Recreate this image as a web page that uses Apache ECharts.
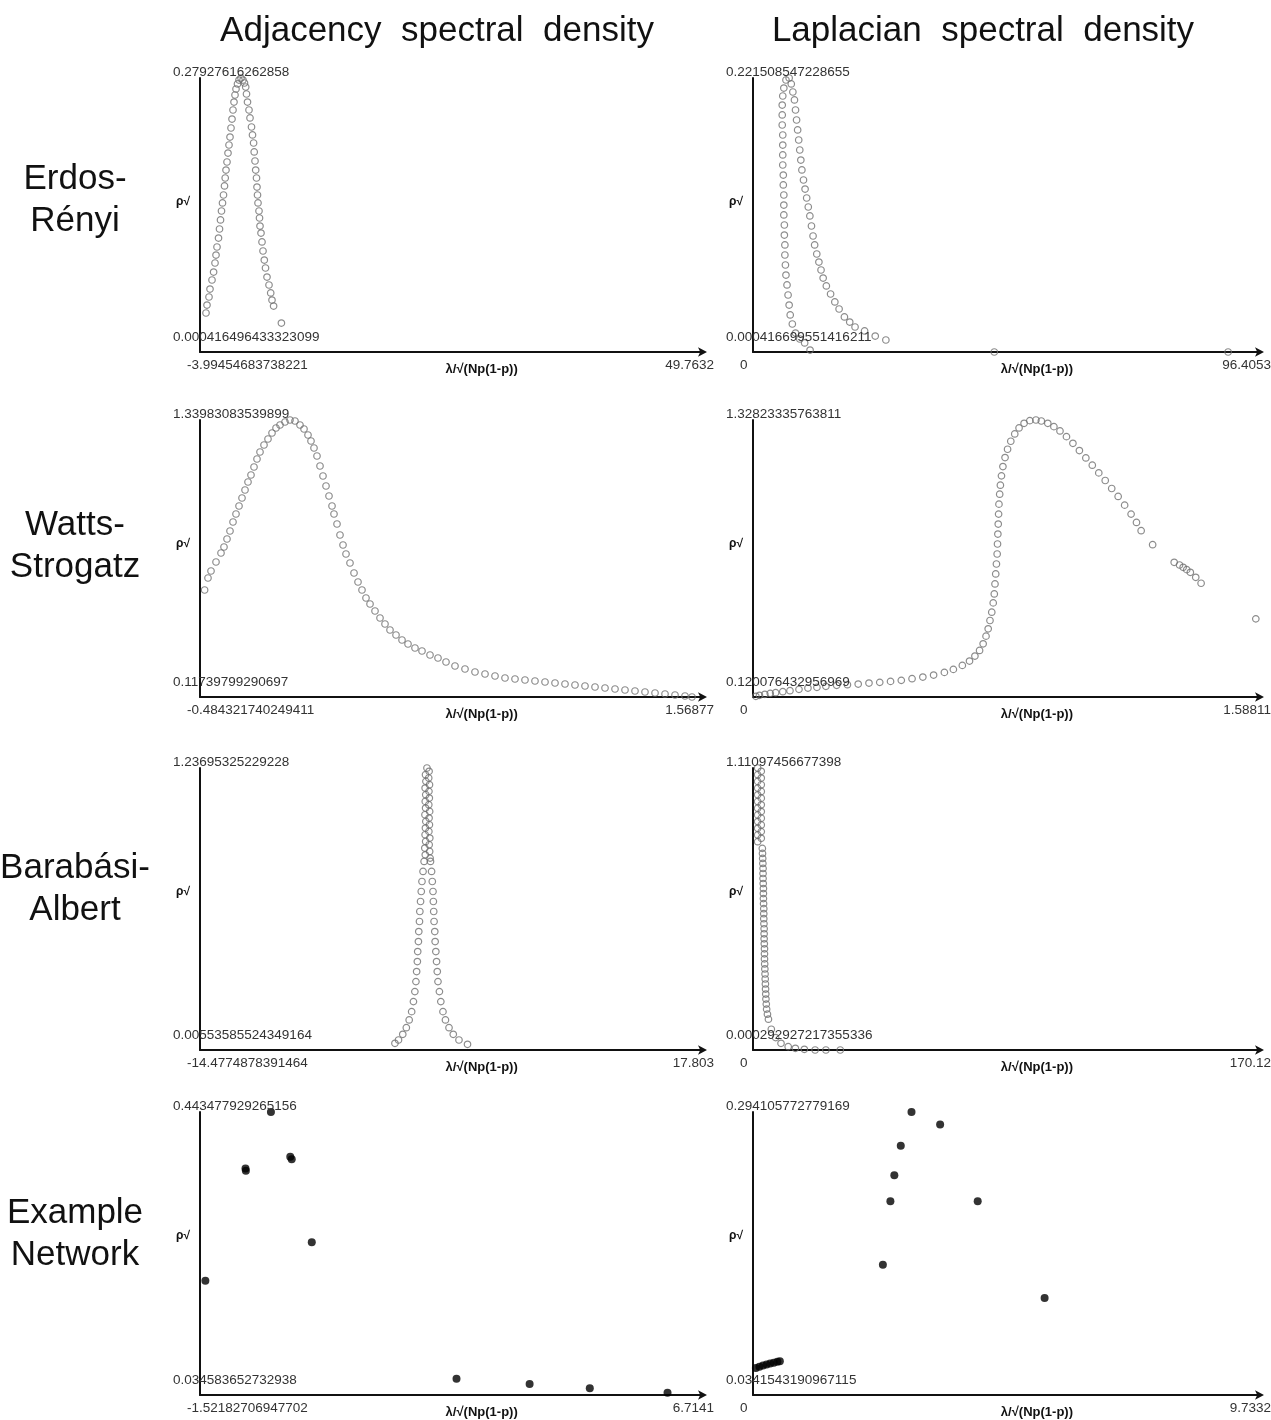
<!DOCTYPE html>
<html><head><meta charset="utf-8">
<script src="https://cdn.jsdelivr.net/npm/echarts@6/dist/echarts.min.js"></script>
<style>html,body{margin:0;padding:0;background:#fff}#c{width:1271px;height:1420px}</style>
</head><body><div id="c"></div>
<script>
// ---------- texts ----------
const colTitles = ['Adjacency  spectral  density', 'Laplacian  spectral  density'];
const rowTitles = [['Erdos-', 'Rényi'], ['Watts-', 'Strogatz'], ['Barabási-', 'Albert'], ['Example', 'Network']];
const xAxisTitle = 'λ/√(Np(1-p))';
const yAxisTitle = 'ρ√';

// panel order (row-major): ER adj, ER lap, WS adj, WS lap, BA adj, BA lap, Example adj, Example lap
const xMinLabels = ['-3.99454683738221', '0', '-0.484321740249411', '0', '-14.4774878391464', '0', '-1.52182706947702', '0'];
const xMaxLabels = ['49.7632', '96.4053', '1.56877', '1.58811', '17.803', '170.12', '6.7141', '9.7332'];
const yMinLabels = ['0.000416496433323099', '0.000416699551416211', '0.11739799290697', '0.120076432956969', '0.00553585524349164', '0.000292927217355336', '0.034583652732938', '0.0341543190967115'];
const yMaxLabels = ['0.27927616262858', '0.221508547228655', '1.33983083539899', '1.32823335763811', '1.23695325229228', '1.11097456677398', '0.443477929265156', '0.294105772779169'];

// ---------- data [x, y] ----------
const erAdj = [[-3.353,0.0401],[-3.246,0.0482],[-3.033,0.0564],[-2.926,0.0645],[-2.712,0.0737],[-2.541,0.0818],[-2.391,0.0910],[-2.284,0.0991],[-2.178,0.1073],[-2.017,0.1164],[-1.910,0.1256],[-1.803,0.1348],[-1.697,0.1439],[-1.590,0.1521],[-1.483,0.1602],[-1.376,0.1694],[-1.301,0.1775],[-1.216,0.1856],[-1.109,0.1938],[-1.002,0.2029],[-0.895,0.2111],[-0.788,0.2192],[-0.681,0.2284],[-0.574,0.2375],[-0.468,0.2467],[-0.361,0.2548],[-0.254,0.2620],[-0.147,0.2681],[0.013,0.2732],[0.174,0.2772],[0.387,0.2793],[0.601,0.2772],[0.761,0.2742],[0.890,0.2701],[0.975,0.2630],[1.082,0.2548],[1.242,0.2467],[1.349,0.2386],[1.510,0.2294],[1.616,0.2213],[1.734,0.2131],[1.798,0.2040],[1.884,0.1948],[1.958,0.1856],[2.044,0.1775],[2.097,0.1683],[2.151,0.1602],[2.204,0.1521],[2.311,0.1439],[2.365,0.1368],[2.418,0.1286],[2.525,0.1215],[2.632,0.1124],[2.739,0.1032],[2.878,0.0940],[3.006,0.0859],[3.166,0.0767],[3.380,0.0686],[3.562,0.0605],[3.700,0.0533],[3.872,0.0472],[4.705,0.0299]];

const erLap = [[6.265,0.2199],[5.861,0.2134],[5.659,0.2070],[5.558,0.1997],[5.558,0.1917],[5.558,0.1836],[5.659,0.1755],[5.659,0.1674],[5.659,0.1594],[5.659,0.1513],[5.760,0.1432],[5.760,0.1352],[5.861,0.1271],[5.861,0.1190],[5.861,0.1110],[5.962,0.1029],[5.962,0.0948],[6.063,0.0868],[6.063,0.0787],[6.164,0.0706],[6.265,0.0625],[6.468,0.0545],[6.670,0.0464],[6.872,0.0383],[7.074,0.0303],[7.478,0.0230],[8.084,0.0157],[8.893,0.0109],[9.823,0.0077],[10.853,0.0020],
  [6.872,0.2215],[7.276,0.2167],[7.579,0.2102],[7.882,0.2038],[8.084,0.1957],[8.287,0.1876],[8.489,0.1796],[8.691,0.1715],[8.893,0.1634],[9.095,0.1553],[9.297,0.1473],[9.600,0.1392],[9.903,0.1319],[10.207,0.1247],[10.510,0.1174],[10.813,0.1102],[11.116,0.1021],[11.419,0.0940],[11.722,0.0868],[12.127,0.0795],[12.531,0.0730],[12.935,0.0666],[13.339,0.0601],[13.946,0.0537],[14.754,0.0472],[15.562,0.0408],[16.371,0.0351],[17.381,0.0287],[18.392,0.0246],[19.403,0.0206],[21.222,0.0174],[23.243,0.0133],[25.264,0.0101],[45.879,0.0004],[90.343,0.0004]];

const wsAdj = [[-0.4655,0.5896],[-0.4517,0.6426],[-0.4394,0.6735],[-0.4190,0.7132],[-0.3986,0.7529],[-0.3864,0.7794],[-0.3741,0.8147],[-0.3619,0.8500],[-0.3496,0.8897],[-0.3374,0.9250],[-0.3251,0.9603],[-0.3129,0.9956],[-0.3006,1.0309],[-0.2884,1.0662],[-0.2762,1.0971],[-0.2639,1.1324],[-0.2517,1.1677],[-0.2394,1.1986],[-0.2231,1.2295],[-0.2068,1.2560],[-0.1904,1.2825],[-0.1741,1.3045],[-0.1578,1.3178],[-0.1374,1.3310],[-0.1170,1.3398],[-0.0966,1.3354],[-0.0762,1.3178],[-0.0598,1.3001],[-0.0435,1.2736],[-0.0313,1.2472],[-0.0190,1.2163],[-0.0068,1.1810],[0.0055,1.1368],[0.0177,1.0927],[0.0300,1.0486],[0.0422,1.0044],[0.0545,0.9603],[0.0626,0.9250],[0.0749,0.8809],[0.0871,0.8323],[0.0994,0.7882],[0.1116,0.7485],[0.1279,0.7088],[0.1443,0.6646],[0.1606,0.6249],[0.1769,0.5896],[0.1932,0.5543],[0.2096,0.5278],[0.2300,0.4969],[0.2504,0.4660],[0.2708,0.4396],[0.2912,0.4131],[0.3157,0.3910],[0.3402,0.3689],[0.3647,0.3513],[0.3932,0.3336],[0.4218,0.3204],[0.4545,0.3028],[0.4871,0.2895],[0.5198,0.2719],[0.5565,0.2542],[0.5973,0.2410],[0.6381,0.2277],[0.6790,0.2189],[0.7198,0.2101],[0.7606,0.2012],[0.8014,0.1968],[0.8422,0.1924],[0.8830,0.1880],[0.9239,0.1836],[0.9647,0.1792],[1.0055,0.1748],[1.0463,0.1704],[1.0871,0.1659],[1.1280,0.1615],[1.1688,0.1571],[1.2096,0.1527],[1.2504,0.1483],[1.2912,0.1439],[1.3320,0.1395],[1.3729,0.1351],[1.4137,0.1306],[1.4545,0.1262],[1.4953,0.1218],[1.5239,0.1174]];

const wsLap = [[0.0090,0.1230],[0.0202,0.1273],[0.0371,0.1317],[0.0540,0.1360],[0.0709,0.1389],[0.0933,0.1433],[0.1158,0.1476],[0.1440,0.1534],[0.1721,0.1592],[0.2002,0.1621],[0.2283,0.1665],[0.2621,0.1708],[0.2958,0.1737],[0.3295,0.1766],[0.3633,0.1810],[0.3970,0.1839],[0.4308,0.1882],[0.4645,0.1926],[0.4982,0.1998],[0.5320,0.2071],[0.5657,0.2158],[0.5995,0.2274],[0.6276,0.2405],[0.6557,0.2579],[0.6782,0.2767],[0.6951,0.2985],[0.7097,0.3231],[0.7209,0.3521],[0.7299,0.3855],[0.7367,0.4174],[0.7423,0.4537],[0.7479,0.4899],[0.7524,0.5305],[0.7558,0.5697],[0.7580,0.6132],[0.7603,0.6567],[0.7625,0.7002],[0.7648,0.7437],[0.7659,0.7873],[0.7670,0.8308],[0.7682,0.8743],[0.7693,0.9178],[0.7704,0.9613],[0.7727,1.0048],[0.7749,1.0440],[0.7783,1.0846],[0.7828,1.1252],[0.7895,1.1644],[0.7974,1.2006],[0.8075,1.2355],[0.8199,1.2674],[0.8334,1.2935],[0.8491,1.3138],[0.8671,1.3254],[0.8863,1.3282],[0.9031,1.3239],[0.9234,1.3138],[0.9425,1.2993],[0.9616,1.2804],[0.9819,1.2557],[1.0021,1.2267],[1.0224,1.1948],[1.0426,1.1629],[1.0628,1.1310],[1.0831,1.0976],[1.1033,1.0643],[1.1236,1.0295],[1.1438,0.9947],[1.1641,0.9569],[1.1843,0.9178],[1.2012,0.8815],[1.2158,0.8453],[1.2518,0.7844],[1.3193,0.7075],[1.3361,0.6959],[1.3474,0.6857],[1.3586,0.6756],[1.3699,0.6640],[1.3868,0.6422],[1.4036,0.6161],[1.5750,0.4609]];

const baAdj = [[0.0874,1.2370],[-0.004,1.2078],[0.020,1.1786],[-0.030,1.1495],[0.010,1.1204],[-0.020,1.0912],[0.000,1.0621],[-0.040,1.0329],[0.015,1.0038],[-0.010,0.9746],[-0.030,0.9455],[0.005,0.9163],[-0.050,0.8872],[-0.020,0.8580],
  [0.224,1.2224],[0.200,1.1932],[0.250,1.1641],[0.215,1.1349],[0.240,1.1058],[0.205,1.0767],[0.260,1.0475],[0.224,1.0184],[0.245,0.9892],[0.210,0.9601],[0.270,0.9309],[0.230,0.9018],[0.260,0.8726],[0.290,0.8435],
  [-0.0952,0.8289],[-0.1637,0.7852],[-0.2322,0.7414],[-0.2779,0.6977],[-0.3235,0.6540],[-0.3692,0.6103],[-0.3920,0.5666],[-0.4377,0.5228],[-0.4605,0.4791],[-0.5062,0.4354],[-0.5290,0.3917],[-0.5746,0.3480],[-0.6203,0.3042],[-0.6888,0.2605],[-0.7801,0.2168],[-0.8942,0.1731],[-1.0540,0.1367],[-1.2367,0.1031],[-1.4650,0.0740],[-1.7389,0.0492],[-1.9672,0.0346],
  [0.3157,0.8289],[0.3842,0.7852],[0.4299,0.7414],[0.4755,0.6977],[0.4983,0.6540],[0.5212,0.6103],[0.5440,0.5666],[0.5897,0.5228],[0.6125,0.4791],[0.6581,0.4354],[0.7038,0.3917],[0.7494,0.3480],[0.7951,0.3042],[0.8864,0.2605],[0.9777,0.2168],[1.1147,0.1731],[1.2745,0.1367],[1.5028,0.1031],[1.7767,0.0740],[2.1420,0.0492],[2.6899,0.0303]];

const baLap = [[1.566,1.1110],[2.771,1.0978],[1.566,1.0846],[2.771,1.0714],[1.566,1.0582],[2.771,1.0450],[1.566,1.0318],[2.771,1.0186],[1.566,1.0055],[2.771,0.9923],[1.566,0.9791],[2.771,0.9659],[1.566,0.9527],[2.771,0.9395],[1.566,0.9263],[2.771,0.9131],[1.566,0.8999],[2.771,0.8867],[1.566,0.8735],[2.771,0.8604],[1.566,0.8472],[2.771,0.8340],[1.566,0.8208],
  [3.132,0.7944],[3.19,0.7746],[3.253,0.7548],[3.31,0.7350],[3.373,0.7153],[3.37,0.6955],[3.373,0.6757],[3.43,0.6559],[3.494,0.6361],[3.49,0.6163],[3.494,0.5965],[3.55,0.5768],[3.614,0.5570],[3.61,0.5372],[3.614,0.5174],[3.67,0.4976],[3.735,0.4778],[3.73,0.4580],[3.735,0.4382],[3.79,0.4185],[3.855,0.3987],[3.85,0.3789],[3.855,0.3591],[3.92,0.3393],[3.976,0.3195],[4.04,0.2997],[4.096,0.2799],[4.16,0.2602],[4.217,0.2404],[4.28,0.2206],[4.337,0.2008],[4.46,0.1810],[4.578,0.1612],[4.85,0.1414],[5.181,0.1217],[6.144,0.0821],[7.590,0.0491],[9.397,0.0267],[11.807,0.0135],[14.217,0.0069],[17.229,0.0029],[20.843,0.0003],[24.457,0.0003],[29.277,0.0003]];

const exAdj = [[-1.4338,0.1995],[-0.7769,0.3620],[-0.7710,0.3586],[-0.3604,0.4435],[-0.0436,0.3790],[-0.0201,0.3751],[0.3084,0.2553],[2.6782,0.0579],[3.8749,0.0506],[4.8604,0.0443],[6.1333,0.0380]];
const exLap = [[3.0429,0.2941],[3.5924,0.2826],[2.8369,0.2631],[2.7132,0.2360],[2.6377,0.2121],[4.3137,0.2121],[2.4934,0.1537],[5.5982,0.1233],[0.0550,0.0590],[0.1236,0.0602],[0.1923,0.0612],[0.2610,0.0621],[0.3297,0.0630],[0.3984,0.0637],[0.4671,0.0646],[0.5152,0.0652]];

const panelData = [erAdj, erLap, wsAdj, wsLap, baAdj, baLap, exAdj, exLap];

// ---------- layout ----------
const colLeft = [200, 753], colRight = [703, 1260];
const rowTop = [78, 420, 768, 1112], rowBottom = [352, 697, 1050, 1395];
const rowMid = [200, 546, 889, 1234];
const colTitleX = [437, 983];
const FONT = '"Liberation Sans", Arial, sans-serif';

const grids = [], xAxes = [], yAxes = [], series = [], graphics = [];
function txt(text, x, y, font, align, valign, fill) {
  graphics.push({ type: 'text', x: x, y: y, z: 100, silent: true,
    style: { text: text, font: font, fill: fill || '#222', align: align, verticalAlign: valign, textAlign: align, textVerticalAlign: valign } });
}
colTitles.forEach((t, c) => txt(t, colTitleX[c], 31, '35px ' + FONT, 'center', 'middle', '#111'));
rowTitles.forEach((lines, r) => {
  txt(lines[0], 75, rowMid[r] - 21, '35px ' + FONT, 'center', 'middle', '#111');
  txt(lines[1], 75, rowMid[r] + 21, '35px ' + FONT, 'center', 'middle', '#111');
});

for (let i = 0; i < 8; i++) {
  const r = Math.floor(i / 2), c = i % 2;
  const L = colLeft[c], R = colRight[c], T = rowTop[r], B = rowBottom[r];
  grids.push({ left: L, top: T, width: R - L, height: B - T });
  const axisLineBase = { show: true, onZero: false, lineStyle: { color: '#111', width: 2 } };
  xAxes.push({ gridIndex: i, type: 'value', min: parseFloat(xMinLabels[i]), max: parseFloat(xMaxLabels[i]),
    axisLabel: { show: false }, axisTick: { show: false }, splitLine: { show: false },
    axisLine: Object.assign({}, axisLineBase, { symbol: ['none', 'arrow'], symbolSize: [7, 9], symbolOffset: [0, 4] }) });
  yAxes.push({ gridIndex: i, type: 'value', min: parseFloat(yMinLabels[i]), max: parseFloat(yMaxLabels[i]),
    axisLabel: { show: false }, axisTick: { show: false }, splitLine: { show: false }, axisLine: axisLineBase });
  const filled = r === 3;
  series.push({ type: 'scatter', xAxisIndex: i, yAxisIndex: i, data: panelData[i], clip: false,
    symbol: 'circle', symbolSize: filled ? 8 : 6.5, silent: true,
    itemStyle: filled ? { color: '#000' } : { color: 'rgba(0,0,0,0)', borderColor: '#6f6f6f', borderWidth: 1.2 } });
  const lab = '13.5px ' + FONT;
  txt(yMaxLabels[i], L - 27, T - 6, lab, 'left', 'middle', '#333');
  txt(yMinLabels[i], L - 27, B - 15, lab, 'left', 'middle', '#333');
  txt(xMinLabels[i], L - 13, B + 13, lab, 'left', 'middle', '#333');
  txt(xMaxLabels[i], R + 11, B + 13, lab, 'right', 'middle', '#333');
  txt(xAxisTitle, L + 0.56 * (R - L), B + 17, 'bold 13px ' + FONT, 'center', 'middle', '#111');
  txt(yAxisTitle, L - 17, T + 124, 'bold 12px ' + FONT, 'center', 'middle', '#111');
}

const chart = echarts.init(document.getElementById('c'), null, { renderer: 'canvas' });
chart.setOption({ animation: false, backgroundColor: '#fff', grid: grids, xAxis: xAxes, yAxis: yAxes, series: series, graphic: graphics });
</script></body></html>
